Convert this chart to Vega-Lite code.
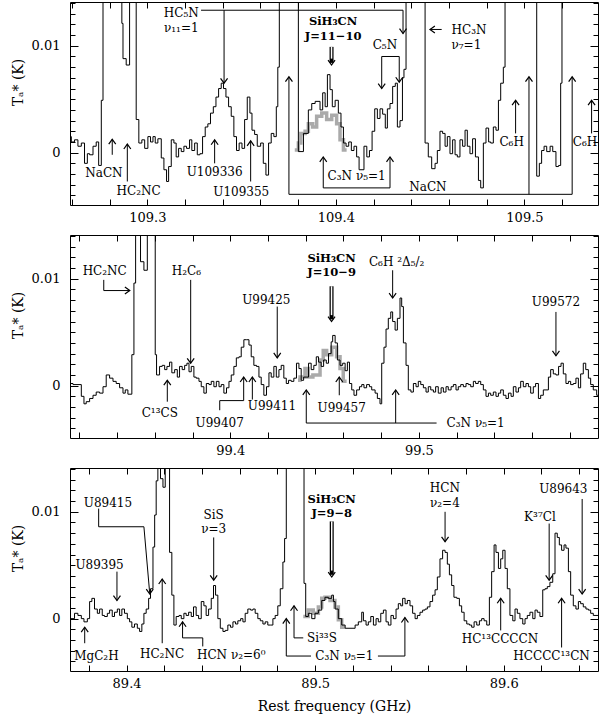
{
"$schema": "https://vega.github.io/schema/vega-lite/v6.json",
"background": "white",
"padding": {"left": 10, "top": -4, "right": 2, "bottom": 2},
"spacing": 30,
"bounds": "flush",
"config": {"view": {"stroke": "#000", "strokeWidth": 1}, "font": "DejaVu Serif"},
"datasets": {
"spec": [
{"panel":1,"x":109.2579,"y":0.0015},{"panel":1,"x":109.2597,"y":0.0010},{"panel":1,"x":109.2614,"y":0.0012},{"panel":1,"x":109.2632,"y":0.0006},{"panel":1,"x":109.2650,"y":0.0009},{"panel":1,"x":109.2667,"y":-0.0010},{"panel":1,"x":109.2682,"y":-0.0001},{"panel":1,"x":109.2694,"y":-0.0002},{"panel":1,"x":109.2712,"y":0.0006},{"panel":1,"x":109.2729,"y":0.0010},{"panel":1,"x":109.2742,"y":-0.0012},{"panel":1,"x":109.2756,"y":0.0049},{"panel":1,"x":109.2765,"y":0.03},{"panel":1,"x":109.2865,"y":0.0121},{"panel":1,"x":109.2871,"y":0.0088},{"panel":1,"x":109.2888,"y":0.0082},{"panel":1,"x":109.2906,"y":0.03},{"panel":1,"x":109.2941,"y":0.0031},{"panel":1,"x":109.2955,"y":0.0009},{"panel":1,"x":109.2971,"y":0.0012},{"panel":1,"x":109.2986,"y":0.0004},{"panel":1,"x":109.3003,"y":0.0015},{"panel":1,"x":109.3017,"y":0.0010},{"panel":1,"x":109.3030,"y":0.0015},{"panel":1,"x":109.3042,"y":0.0009},{"panel":1,"x":109.3056,"y":0.0013},{"panel":1,"x":109.3074,"y":-0.0005},{"panel":1,"x":109.3088,"y":-0.0016},{"panel":1,"x":109.3102,"y":-0.0027},{"panel":1,"x":109.3113,"y":-0.0013},{"panel":1,"x":109.3127,"y":0.0012},{"panel":1,"x":109.3141,"y":0.0009},{"panel":1,"x":109.3153,"y":-0.0004},{"panel":1,"x":109.3166,"y":0.0004},{"panel":1,"x":109.3180,"y":0.0001},{"panel":1,"x":109.3194,"y":0.0006},{"panel":1,"x":109.3208,"y":0.0004},{"panel":1,"x":109.3224,"y":0.0012},{"panel":1,"x":109.3236,"y":0.0002},{"panel":1,"x":109.3251,"y":0.0009},{"panel":1,"x":109.3265,"y":-0.0002},{"panel":1,"x":109.3279,"y":-0.0001},{"panel":1,"x":109.3293,"y":0.0015},{"panel":1,"x":109.3307,"y":0.0024},{"panel":1,"x":109.3321,"y":0.0027},{"panel":1,"x":109.3335,"y":0.0037},{"panel":1,"x":109.3350,"y":0.0043},{"panel":1,"x":109.3364,"y":0.0052},{"panel":1,"x":109.3378,"y":0.0060},{"panel":1,"x":109.3392,"y":0.0065},{"panel":1,"x":109.3404,"y":0.0060},{"panel":1,"x":109.3417,"y":0.0052},{"panel":1,"x":109.3431,"y":0.0043},{"panel":1,"x":109.3445,"y":0.0034},{"panel":1,"x":109.3459,"y":0.0015},{"panel":1,"x":109.3473,"y":0.0002},{"panel":1,"x":109.3487,"y":0.0009},{"panel":1,"x":109.3502,"y":0.0004},{"panel":1,"x":109.3516,"y":0.0031},{"panel":1,"x":109.3530,"y":0.0052},{"panel":1,"x":109.3544,"y":0.0037},{"panel":1,"x":109.3555,"y":0.0021},{"panel":1,"x":109.3569,"y":0.0017},{"panel":1,"x":109.3583,"y":0.0006},{"panel":1,"x":109.3601,"y":0.0009},{"panel":1,"x":109.3615,"y":-0.0010},{"panel":1,"x":109.3629,"y":-0.0021},{"panel":1,"x":109.3643,"y":0.0009},{"panel":1,"x":109.3657,"y":0.0018},{"panel":1,"x":109.3671,"y":0.0015},{"panel":1,"x":109.3684,"y":0.0043},{"panel":1,"x":109.3692,"y":0.0080},{"panel":1,"x":109.3700,"y":0.03},{"panel":1,"x":109.3801,"y":0.0001},{"panel":1,"x":109.3828,"y":0.0018},{"panel":1,"x":109.3854,"y":0.0040},{"panel":1,"x":109.3872,"y":0.0046},{"panel":1,"x":109.3890,"y":0.0048},{"panel":1,"x":109.3916,"y":0.0040},{"panel":1,"x":109.3930,"y":0.0056},{"panel":1,"x":109.3943,"y":0.0043},{"panel":1,"x":109.3955,"y":0.0073},{"panel":1,"x":109.3969,"y":0.0059},{"panel":1,"x":109.3981,"y":0.0043},{"panel":1,"x":109.3996,"y":0.0049},{"panel":1,"x":109.4013,"y":0.0037},{"panel":1,"x":109.4027,"y":0.0024},{"panel":1,"x":109.4040,"y":0.0009},{"panel":1,"x":109.4054,"y":0.0006},{"panel":1,"x":109.4068,"y":0.0010},{"panel":1,"x":109.4082,"y":0.0002},{"panel":1,"x":109.4096,"y":0.0006},{"panel":1,"x":109.4110,"y":-0.0004},{"panel":1,"x":109.4123,"y":-0.0016},{"panel":1,"x":109.4149,"y":0.0006},{"panel":1,"x":109.4164,"y":-0.0004},{"panel":1,"x":109.4178,"y":0.0002},{"panel":1,"x":109.4192,"y":0.0020},{"panel":1,"x":109.4206,"y":0.0041},{"panel":1,"x":109.4220,"y":0.0032},{"panel":1,"x":109.4234,"y":0.0041},{"panel":1,"x":109.4248,"y":0.0036},{"panel":1,"x":109.4262,"y":0.0023},{"panel":1,"x":109.4273,"y":0.0041},{"panel":1,"x":109.4287,"y":0.0046},{"panel":1,"x":109.4301,"y":0.0062},{"panel":1,"x":109.4315,"y":0.0065},{"panel":1,"x":109.4326,"y":0.0024},{"panel":1,"x":109.4340,"y":0.0030},{"panel":1,"x":109.4353,"y":0.0070},{"panel":1,"x":109.4361,"y":0.0078},{"panel":1,"x":109.4372,"y":0.03},{"panel":1,"x":109.4473,"y":0.0009},{"panel":1,"x":109.4490,"y":-0.0004},{"panel":1,"x":109.4508,"y":-0.0015},{"panel":1,"x":109.4526,"y":-0.0010},{"panel":1,"x":109.4538,"y":0.0002},{"panel":1,"x":109.4552,"y":0.0020},{"panel":1,"x":109.4566,"y":0.0018},{"panel":1,"x":109.4579,"y":0.0006},{"panel":1,"x":109.4591,"y":0.0015},{"panel":1,"x":109.4605,"y":-0.0001},{"panel":1,"x":109.4619,"y":0.0012},{"panel":1,"x":109.4632,"y":-0.0002},{"panel":1,"x":109.4644,"y":-0.0004},{"panel":1,"x":109.4658,"y":0.0012},{"panel":1,"x":109.4672,"y":0.0006},{"panel":1,"x":109.4685,"y":0.0021},{"panel":1,"x":109.4697,"y":0.0006},{"panel":1,"x":109.4711,"y":-0.0001},{"panel":1,"x":109.4725,"y":0.0013},{"panel":1,"x":109.4740,"y":-0.0004},{"panel":1,"x":109.4756,"y":-0.0026},{"panel":1,"x":109.4768,"y":-0.0033},{"panel":1,"x":109.4782,"y":0.0009},{"panel":1,"x":109.4796,"y":0.0023},{"panel":1,"x":109.4810,"y":0.0010},{"panel":1,"x":109.4821,"y":0.0009},{"panel":1,"x":109.4835,"y":0.0024},{"panel":1,"x":109.4849,"y":0.0021},{"panel":1,"x":109.4862,"y":0.0049},{"panel":1,"x":109.4874,"y":0.0065},{"panel":1,"x":109.4888,"y":0.0080},{"panel":1,"x":109.4897,"y":0.03},{"panel":1,"x":109.5065,"y":-0.0022},{"panel":1,"x":109.5079,"y":-0.0010},{"panel":1,"x":109.5091,"y":0.0002},{"panel":1,"x":109.5104,"y":0.0006},{"panel":1,"x":109.5118,"y":0.0001},{"panel":1,"x":109.5136,"y":0.0006},{"panel":1,"x":109.5150,"y":0.0001},{"panel":1,"x":109.5167,"y":-0.0013},{"panel":1,"x":109.5181,"y":-0.0012},{"panel":1,"x":109.5192,"y":0.0065},{"panel":1,"x":109.5199,"y":0.03},{"panel":1,"x":109.5400,"y":0.03},
{"panel":2,"x":99.3139,"y":0.0002},{"panel":2,"x":99.3166,"y":0.0001},{"panel":2,"x":99.3210,"y":-0.0010},{"panel":2,"x":99.3224,"y":-0.0017},{"panel":2,"x":99.3236,"y":-0.0015},{"panel":2,"x":99.3254,"y":-0.0012},{"panel":2,"x":99.3272,"y":-0.0009},{"panel":2,"x":99.3289,"y":-0.0006},{"panel":2,"x":99.3307,"y":-0.0007},{"panel":2,"x":99.3325,"y":-0.0001},{"panel":2,"x":99.3342,"y":0.0010},{"panel":2,"x":99.3360,"y":0.0007},{"panel":2,"x":99.3378,"y":0.0004},{"panel":2,"x":99.3395,"y":0.0002},{"panel":2,"x":99.3413,"y":-0.0002},{"panel":2,"x":99.3431,"y":-0.0007},{"panel":2,"x":99.3443,"y":-0.0004},{"panel":2,"x":99.3457,"y":-0.0008},{"panel":2,"x":99.3478,"y":0.0029},{"panel":2,"x":99.3489,"y":0.0096},{"panel":2,"x":99.3498,"y":0.03},{"panel":2,"x":99.3524,"y":0.0116},{"panel":2,"x":99.3542,"y":0.0108},{"panel":2,"x":99.3560,"y":0.03},{"panel":2,"x":99.3602,"y":0.0029},{"panel":2,"x":99.3609,"y":0.0010},{"panel":2,"x":99.3625,"y":0.0018},{"panel":2,"x":99.3639,"y":0.0019},{"panel":2,"x":99.3652,"y":0.0015},{"panel":2,"x":99.3664,"y":0.0018},{"panel":2,"x":99.3678,"y":0.0022},{"panel":2,"x":99.3690,"y":0.0012},{"panel":2,"x":99.3705,"y":0.0015},{"panel":2,"x":99.3719,"y":0.0008},{"panel":2,"x":99.3731,"y":0.0018},{"panel":2,"x":99.3745,"y":0.0015},{"panel":2,"x":99.3758,"y":0.0019},{"panel":2,"x":99.3770,"y":0.0021},{"panel":2,"x":99.3781,"y":0.0013},{"panel":2,"x":99.3793,"y":0.0018},{"panel":2,"x":99.3807,"y":0.0008},{"panel":2,"x":99.3819,"y":0.0007},{"panel":2,"x":99.3834,"y":0.0004},{"panel":2,"x":99.3846,"y":-0.0001},{"panel":2,"x":99.3860,"y":-0.0007},{"panel":2,"x":99.3873,"y":0.0002},{"panel":2,"x":99.3887,"y":0.0001},{"panel":2,"x":99.3899,"y":0.0004},{"panel":2,"x":99.3913,"y":-0.0001},{"panel":2,"x":99.3926,"y":0.0004},{"panel":2,"x":99.3940,"y":-0.0001},{"panel":2,"x":99.3952,"y":0.0001},{"panel":2,"x":99.3966,"y":-0.0007},{"panel":2,"x":99.3980,"y":-0.0002},{"panel":2,"x":99.3993,"y":0.0004},{"panel":2,"x":99.4005,"y":0.0010},{"panel":2,"x":99.4019,"y":0.0018},{"panel":2,"x":99.4032,"y":0.0026},{"panel":2,"x":99.4046,"y":0.0027},{"panel":2,"x":99.4058,"y":0.0036},{"panel":2,"x":99.4072,"y":0.0043},{"panel":2,"x":99.4085,"y":0.0043},{"panel":2,"x":99.4099,"y":0.0038},{"panel":2,"x":99.4111,"y":0.0027},{"panel":2,"x":99.4125,"y":0.0019},{"panel":2,"x":99.4139,"y":0.0018},{"panel":2,"x":99.4152,"y":0.0008},{"panel":2,"x":99.4164,"y":0.0001},{"panel":2,"x":99.4178,"y":-0.0009},{"panel":2,"x":99.4192,"y":-0.0001},{"panel":2,"x":99.4205,"y":0.0012},{"panel":2,"x":99.4217,"y":0.0008},{"panel":2,"x":99.4231,"y":0.0018},{"panel":2,"x":99.4244,"y":0.0008},{"panel":2,"x":99.4258,"y":0.0015},{"panel":2,"x":99.4270,"y":0.0019},{"panel":2,"x":99.4284,"y":0.0007},{"panel":2,"x":99.4297,"y":0.0002},{"panel":2,"x":99.4309,"y":0.0005},{"panel":2,"x":99.4323,"y":0.0004},{"panel":2,"x":99.4337,"y":0.0007},{"panel":2,"x":99.4351,"y":0.0021},{"panel":2,"x":99.4364,"y":0.0016},{"panel":2,"x":99.4376,"y":0.0005},{"panel":2,"x":99.4389,"y":0.0008},{"panel":2,"x":99.4403,"y":0.0008},{"panel":2,"x":99.4415,"y":0.0021},{"panel":2,"x":99.4429,"y":0.0015},{"panel":2,"x":99.4443,"y":0.0019},{"panel":2,"x":99.4456,"y":0.0027},{"panel":2,"x":99.4468,"y":0.0022},{"panel":2,"x":99.4482,"y":0.0018},{"panel":2,"x":99.4495,"y":0.0024},{"panel":2,"x":99.4509,"y":0.0021},{"panel":2,"x":99.4521,"y":0.0030},{"panel":2,"x":99.4535,"y":0.0041},{"panel":2,"x":99.4543,"y":0.0047},{"panel":2,"x":99.4556,"y":0.0040},{"panel":2,"x":99.4568,"y":0.0024},{"panel":2,"x":99.4582,"y":0.0019},{"panel":2,"x":99.4596,"y":0.0021},{"panel":2,"x":99.4609,"y":0.0014},{"panel":2,"x":99.4621,"y":0.0022},{"panel":2,"x":99.4632,"y":0.0002},{"panel":2,"x":99.4644,"y":-0.0004},{"panel":2,"x":99.4656,"y":-0.0009},{"panel":2,"x":99.4670,"y":-0.0004},{"panel":2,"x":99.4685,"y":-0.0001},{"panel":2,"x":99.4697,"y":0.0001},{"panel":2,"x":99.4709,"y":-0.0002},{"panel":2,"x":99.4723,"y":0.0001},{"panel":2,"x":99.4738,"y":-0.0001},{"panel":2,"x":99.4750,"y":-0.0004},{"panel":2,"x":99.4768,"y":-0.0007},{"panel":2,"x":99.4780,"y":-0.0012},{"panel":2,"x":99.4794,"y":-0.0017},{"panel":2,"x":99.4803,"y":0.0021},{"panel":2,"x":99.4815,"y":0.0036},{"panel":2,"x":99.4826,"y":0.0053},{"panel":2,"x":99.4838,"y":0.0063},{"panel":2,"x":99.4851,"y":0.0069},{"panel":2,"x":99.4861,"y":0.0060},{"panel":2,"x":99.4874,"y":0.0052},{"panel":2,"x":99.4886,"y":0.0063},{"panel":2,"x":99.4900,"y":0.0082},{"panel":2,"x":99.4909,"y":0.0074},{"panel":2,"x":99.4918,"y":0.0040},{"panel":2,"x":99.4932,"y":0.0019},{"panel":2,"x":99.4944,"y":-0.0004},{"panel":2,"x":99.4958,"y":-0.0006},{"panel":2,"x":99.4971,"y":0.0002},{"panel":2,"x":99.4985,"y":-0.0001},{"panel":2,"x":99.4997,"y":0.0004},{"panel":2,"x":99.5010,"y":0.0001},{"panel":2,"x":99.5024,"y":-0.0002},{"panel":2,"x":99.5038,"y":-0.0006},{"panel":2,"x":99.5050,"y":-0.0001},{"panel":2,"x":99.5063,"y":-0.0004},{"panel":2,"x":99.5077,"y":-0.0006},{"panel":2,"x":99.5089,"y":-0.0001},{"panel":2,"x":99.5103,"y":-0.0007},{"panel":2,"x":99.5118,"y":-0.0002},{"panel":2,"x":99.5130,"y":-0.0006},{"panel":2,"x":99.5144,"y":-0.0001},{"panel":2,"x":99.5156,"y":-0.0004},{"panel":2,"x":99.5171,"y":-0.0001},{"panel":2,"x":99.5183,"y":0.0001},{"panel":2,"x":99.5197,"y":-0.0004},{"panel":2,"x":99.5209,"y":-0.0001},{"panel":2,"x":99.5222,"y":0.0001},{"panel":2,"x":99.5236,"y":-0.0001},{"panel":2,"x":99.5250,"y":0.0002},{"panel":2,"x":99.5262,"y":0.0001},{"panel":2,"x":99.5275,"y":-0.0001},{"panel":2,"x":99.5289,"y":0.0004},{"panel":2,"x":99.5301,"y":0.0002},{"panel":2,"x":99.5315,"y":0.0004},{"panel":2,"x":99.5328,"y":0.0001},{"panel":2,"x":99.5342,"y":-0.0004},{"panel":2,"x":99.5356,"y":-0.0010},{"panel":2,"x":99.5369,"y":-0.0007},{"panel":2,"x":99.5381,"y":-0.0009},{"panel":2,"x":99.5395,"y":-0.0006},{"panel":2,"x":99.5409,"y":-0.0010},{"panel":2,"x":99.5422,"y":-0.0007},{"panel":2,"x":99.5434,"y":-0.0004},{"panel":2,"x":99.5448,"y":-0.0009},{"panel":2,"x":99.5462,"y":-0.0012},{"panel":2,"x":99.5475,"y":-0.0007},{"panel":2,"x":99.5489,"y":-0.0010},{"panel":2,"x":99.5501,"y":-0.0001},{"panel":2,"x":99.5515,"y":-0.0006},{"panel":2,"x":99.5528,"y":-0.0002},{"panel":2,"x":99.5540,"y":0.0004},{"panel":2,"x":99.5554,"y":-0.0001},{"panel":2,"x":99.5568,"y":0.0002},{"panel":2,"x":99.5581,"y":-0.0001},{"panel":2,"x":99.5593,"y":-0.0007},{"panel":2,"x":99.5607,"y":-0.0001},{"panel":2,"x":99.5619,"y":0.0002},{"panel":2,"x":99.5634,"y":-0.0012},{"panel":2,"x":99.5646,"y":-0.0009},{"panel":2,"x":99.5660,"y":-0.0004},{"panel":2,"x":99.5674,"y":-0.0004},{"panel":2,"x":99.5687,"y":0.0008},{"panel":2,"x":99.5699,"y":0.0015},{"panel":2,"x":99.5713,"y":0.0011},{"panel":2,"x":99.5727,"y":0.0010},{"panel":2,"x":99.5741,"y":0.0018},{"panel":2,"x":99.5754,"y":0.0021},{"panel":2,"x":99.5766,"y":0.0011},{"panel":2,"x":99.5780,"y":0.0002},{"panel":2,"x":99.5793,"y":0.0004},{"panel":2,"x":99.5805,"y":0.0001},{"panel":2,"x":99.5819,"y":0.0002},{"panel":2,"x":99.5833,"y":0.0007},{"panel":2,"x":99.5846,"y":-0.0002},{"panel":2,"x":99.5858,"y":0.0011},{"panel":2,"x":99.5872,"y":0.0021},{"panel":2,"x":99.5885,"y":0.0015},{"panel":2,"x":99.5899,"y":0.0007},{"panel":2,"x":99.5911,"y":0.0001},{"panel":2,"x":99.5925,"y":-0.0004},{"panel":2,"x":99.5943,"y":-0.0009},{"panel":2,"x":99.5960,"y":-0.0009},
{"panel":3,"x":89.3689,"y":-0.0008},{"panel":3,"x":89.3703,"y":0.0000},{"panel":3,"x":89.3724,"y":0.0005},{"panel":3,"x":89.3742,"y":0.0003},{"panel":3,"x":89.3760,"y":0.0000},{"panel":3,"x":89.3774,"y":-0.0003},{"panel":3,"x":89.3792,"y":0.0000},{"panel":3,"x":89.3804,"y":0.0016},{"panel":3,"x":89.3816,"y":0.0019},{"panel":3,"x":89.3830,"y":0.0009},{"panel":3,"x":89.3845,"y":0.0005},{"panel":3,"x":89.3857,"y":0.0009},{"panel":3,"x":89.3871,"y":0.0003},{"panel":3,"x":89.3883,"y":0.0002},{"panel":3,"x":89.3898,"y":0.0005},{"panel":3,"x":89.3910,"y":0.0008},{"panel":3,"x":89.3924,"y":0.0002},{"panel":3,"x":89.3936,"y":0.0006},{"panel":3,"x":89.3951,"y":0.0009},{"panel":3,"x":89.3963,"y":0.0003},{"panel":3,"x":89.3975,"y":0.0009},{"panel":3,"x":89.3989,"y":0.0005},{"panel":3,"x":89.4004,"y":0.0000},{"panel":3,"x":89.4016,"y":-0.0003},{"panel":3,"x":89.4028,"y":-0.0008},{"panel":3,"x":89.4042,"y":-0.0005},{"panel":3,"x":89.4057,"y":-0.0009},{"panel":3,"x":89.4069,"y":-0.0012},{"panel":3,"x":89.4081,"y":-0.0005},{"panel":3,"x":89.4092,"y":0.0005},{"panel":3,"x":89.4104,"y":0.0009},{"panel":3,"x":89.4117,"y":0.0019},{"panel":3,"x":89.4127,"y":0.0028},{"panel":3,"x":89.4140,"y":0.0067},{"panel":3,"x":89.4149,"y":0.0097},{"panel":3,"x":89.4157,"y":0.0129},{"panel":3,"x":89.4166,"y":0.03},{"panel":3,"x":89.4180,"y":0.0131},{"panel":3,"x":89.4193,"y":0.0123},{"panel":3,"x":89.4205,"y":0.03},{"panel":3,"x":89.4228,"y":0.0062},{"panel":3,"x":89.4240,"y":0.0022},{"panel":3,"x":89.4251,"y":-0.0006},{"panel":3,"x":89.4263,"y":0.0002},{"panel":3,"x":89.4278,"y":0.0003},{"panel":3,"x":89.4290,"y":0.0000},{"panel":3,"x":89.4304,"y":0.0005},{"panel":3,"x":89.4316,"y":0.0003},{"panel":3,"x":89.4329,"y":0.0006},{"panel":3,"x":89.4343,"y":0.0002},{"panel":3,"x":89.4355,"y":0.0011},{"panel":3,"x":89.4369,"y":0.0003},{"panel":3,"x":89.4382,"y":0.0000},{"panel":3,"x":89.4396,"y":0.0016},{"panel":3,"x":89.4410,"y":0.0012},{"panel":3,"x":89.4422,"y":0.0003},{"panel":3,"x":89.4435,"y":0.0009},{"panel":3,"x":89.4449,"y":0.0019},{"panel":3,"x":89.4461,"y":0.0031},{"panel":3,"x":89.4472,"y":0.0022},{"panel":3,"x":89.4484,"y":0.0000},{"panel":3,"x":89.4497,"y":-0.0009},{"panel":3,"x":89.4511,"y":-0.0012},{"panel":3,"x":89.4523,"y":-0.0011},{"panel":3,"x":89.4537,"y":-0.0006},{"panel":3,"x":89.4551,"y":-0.0008},{"panel":3,"x":89.4564,"y":-0.0003},{"panel":3,"x":89.4578,"y":-0.0005},{"panel":3,"x":89.4590,"y":-0.0002},{"panel":3,"x":89.4605,"y":0.0000},{"panel":3,"x":89.4617,"y":-0.0003},{"panel":3,"x":89.4629,"y":0.0005},{"panel":3,"x":89.4643,"y":0.0009},{"panel":3,"x":89.4658,"y":0.0008},{"panel":3,"x":89.4670,"y":0.0009},{"panel":3,"x":89.4682,"y":0.0005},{"panel":3,"x":89.4696,"y":0.0000},{"panel":3,"x":89.4709,"y":-0.0002},{"panel":3,"x":89.4723,"y":-0.0005},{"panel":3,"x":89.4735,"y":-0.0003},{"panel":3,"x":89.4749,"y":-0.0006},{"panel":3,"x":89.4762,"y":-0.0006},{"panel":3,"x":89.4776,"y":0.0000},{"panel":3,"x":89.4788,"y":0.0003},{"panel":3,"x":89.4802,"y":0.0012},{"panel":3,"x":89.4815,"y":0.0028},{"panel":3,"x":89.4829,"y":0.0053},{"panel":3,"x":89.4838,"y":0.0075},{"panel":3,"x":89.4847,"y":0.03},{"panel":3,"x":89.4941,"y":0.0033},{"panel":3,"x":89.4950,"y":0.0002},{"panel":3,"x":89.4964,"y":0.0005},{"panel":3,"x":89.4982,"y":0.0000},{"panel":3,"x":89.4999,"y":0.0005},{"panel":3,"x":89.5017,"y":0.0008},{"panel":3,"x":89.5035,"y":0.0017},{"panel":3,"x":89.5052,"y":0.0020},{"panel":3,"x":89.5070,"y":0.0019},{"panel":3,"x":89.5088,"y":0.0022},{"panel":3,"x":89.5097,"y":0.0016},{"panel":3,"x":89.5106,"y":0.0009},{"panel":3,"x":89.5123,"y":0.0000},{"panel":3,"x":89.5141,"y":-0.0006},{"panel":3,"x":89.5159,"y":-0.0009},{"panel":3,"x":89.5212,"y":-0.0006},{"panel":3,"x":89.5229,"y":-0.0003},{"panel":3,"x":89.5247,"y":0.0006},{"panel":3,"x":89.5256,"y":-0.0002},{"panel":3,"x":89.5270,"y":-0.0006},{"panel":3,"x":89.5282,"y":-0.0003},{"panel":3,"x":89.5295,"y":0.0002},{"panel":3,"x":89.5309,"y":-0.0006},{"panel":3,"x":89.5323,"y":0.0000},{"panel":3,"x":89.5335,"y":-0.0003},{"panel":3,"x":89.5348,"y":0.0005},{"panel":3,"x":89.5362,"y":0.0008},{"panel":3,"x":89.5376,"y":-0.0003},{"panel":3,"x":89.5388,"y":-0.0006},{"panel":3,"x":89.5402,"y":0.0003},{"panel":3,"x":89.5415,"y":0.0000},{"panel":3,"x":89.5429,"y":0.0009},{"panel":3,"x":89.5441,"y":0.0014},{"panel":3,"x":89.5454,"y":0.0012},{"panel":3,"x":89.5464,"y":0.0019},{"panel":3,"x":89.5477,"y":0.0014},{"panel":3,"x":89.5489,"y":0.0017},{"panel":3,"x":89.5503,"y":0.0012},{"panel":3,"x":89.5517,"y":0.0005},{"panel":3,"x":89.5530,"y":0.0000},{"panel":3,"x":89.5542,"y":0.0003},{"panel":3,"x":89.5556,"y":0.0006},{"panel":3,"x":89.5570,"y":0.0008},{"panel":3,"x":89.5583,"y":0.0009},{"panel":3,"x":89.5595,"y":0.0011},{"panel":3,"x":89.5609,"y":0.0016},{"panel":3,"x":89.5623,"y":0.0022},{"panel":3,"x":89.5636,"y":0.0027},{"panel":3,"x":89.5648,"y":0.0039},{"panel":3,"x":89.5662,"y":0.0056},{"panel":3,"x":89.5676,"y":0.0064},{"panel":3,"x":89.5689,"y":0.0062},{"panel":3,"x":89.5701,"y":0.0051},{"panel":3,"x":89.5712,"y":0.0041},{"panel":3,"x":89.5724,"y":0.0031},{"panel":3,"x":89.5736,"y":0.0020},{"panel":3,"x":89.5751,"y":0.0019},{"panel":3,"x":89.5765,"y":0.0012},{"panel":3,"x":89.5777,"y":0.0006},{"panel":3,"x":89.5790,"y":-0.0002},{"panel":3,"x":89.5804,"y":-0.0005},{"panel":3,"x":89.5818,"y":-0.0006},{"panel":3,"x":89.5830,"y":-0.0008},{"panel":3,"x":89.5843,"y":-0.0003},{"panel":3,"x":89.5857,"y":-0.0006},{"panel":3,"x":89.5871,"y":-0.0002},{"panel":3,"x":89.5883,"y":0.0000},{"panel":3,"x":89.5896,"y":-0.0002},{"panel":3,"x":89.5910,"y":-0.0006},{"panel":3,"x":89.5924,"y":0.0020},{"panel":3,"x":89.5936,"y":0.0044},{"panel":3,"x":89.5949,"y":0.0069},{"panel":3,"x":89.5959,"y":0.0062},{"panel":3,"x":89.5972,"y":0.0047},{"panel":3,"x":89.5984,"y":0.0056},{"panel":3,"x":89.5995,"y":0.0064},{"panel":3,"x":89.6007,"y":0.0047},{"panel":3,"x":89.6019,"y":0.0028},{"panel":3,"x":89.6033,"y":0.0003},{"panel":3,"x":89.6048,"y":-0.0002},{"panel":3,"x":89.6060,"y":0.0009},{"panel":3,"x":89.6072,"y":0.0005},{"panel":3,"x":89.6086,"y":0.0000},{"panel":3,"x":89.6101,"y":-0.0005},{"panel":3,"x":89.6113,"y":0.0000},{"panel":3,"x":89.6125,"y":0.0003},{"panel":3,"x":89.6139,"y":0.0006},{"panel":3,"x":89.6154,"y":0.0000},{"panel":3,"x":89.6166,"y":0.0008},{"panel":3,"x":89.6178,"y":0.0006},{"panel":3,"x":89.6192,"y":0.0002},{"panel":3,"x":89.6207,"y":0.0027},{"panel":3,"x":89.6219,"y":0.0028},{"panel":3,"x":89.6231,"y":0.0030},{"panel":3,"x":89.6245,"y":0.0034},{"panel":3,"x":89.6260,"y":0.0042},{"panel":3,"x":89.6272,"y":0.0080},{"panel":3,"x":89.6284,"y":0.0076},{"panel":3,"x":89.6295,"y":0.0069},{"panel":3,"x":89.6307,"y":0.0064},{"panel":3,"x":89.6320,"y":0.0069},{"panel":3,"x":89.6330,"y":0.0066},{"panel":3,"x":89.6343,"y":0.0044},{"panel":3,"x":89.6355,"y":0.0022},{"panel":3,"x":89.6369,"y":0.0012},{"panel":3,"x":89.6383,"y":0.0009},{"panel":3,"x":89.6396,"y":0.0016},{"panel":3,"x":89.6408,"y":0.0014},{"panel":3,"x":89.6422,"y":0.0011},{"panel":3,"x":89.6436,"y":0.0009},{"panel":3,"x":89.6449,"y":0.0008},{"panel":3,"x":89.6461,"y":0.0005},{"panel":3,"x":89.6475,"y":0.0003},{"panel":3,"x":89.6520,"y":0.0003}
],
"model": [
{"panel":1,"x":109.3782,"y":0.00025},{"panel":1,"x":109.3801,"y":0.0009},{"panel":1,"x":109.3814,"y":0.0018},{"panel":1,"x":109.3837,"y":0.0020},{"panel":1,"x":109.3854,"y":0.0027},{"panel":1,"x":109.3877,"y":0.0024},{"panel":1,"x":109.3898,"y":0.0034},{"panel":1,"x":109.3925,"y":0.0037},{"panel":1,"x":109.3951,"y":0.0031},{"panel":1,"x":109.3978,"y":0.0035},{"panel":1,"x":109.4004,"y":0.0027},{"panel":1,"x":109.4022,"y":0.0012},{"panel":1,"x":109.4040,"y":0.00025},{"panel":1,"x":109.4057,"y":0.00025},
{"panel":2,"x":99.4359,"y":0.0005},{"panel":2,"x":99.4370,"y":0.0008},{"panel":2,"x":99.4396,"y":0.0016},{"panel":2,"x":99.4413,"y":0.0008},{"panel":2,"x":99.4438,"y":0.0010},{"panel":2,"x":99.4476,"y":0.0024},{"panel":2,"x":99.4493,"y":0.0033},{"panel":2,"x":99.4511,"y":0.0029},{"panel":2,"x":99.4538,"y":0.0036},{"panel":2,"x":99.4564,"y":0.0027},{"panel":2,"x":99.4582,"y":0.0016},{"panel":2,"x":99.4599,"y":0.0004},{"panel":2,"x":99.4617,"y":0.0004},
{"panel":3,"x":89.4937,"y":0.0002},{"panel":3,"x":89.4964,"y":0.0008},{"panel":3,"x":89.4990,"y":0.0005},{"panel":3,"x":89.5017,"y":0.0011},{"panel":3,"x":89.5035,"y":0.0019},{"panel":3,"x":89.5052,"y":0.0020},{"panel":3,"x":89.5079,"y":0.0017},{"panel":3,"x":89.5105,"y":0.0011},{"panel":3,"x":89.5123,"y":-0.0001},{"panel":3,"x":89.5141,"y":-0.0008},{"panel":3,"x":89.5158,"y":-0.0008}
],
"segs": [
{"panel":1,"x":109.2814,"x2":109.2814,"y":-0.0002,"y2":0.00125},{"panel":1,"x":109.2894,"x2":109.2894,"y":-0.0027,"y2":0.0008},{"panel":1,"x":109.3357,"x2":109.3357,"y":-0.0010,"y2":0.0012},{"panel":1,"x":109.3548,"x2":109.3548,"y":-0.0027,"y2":0.0011},{"panel":1,"x":109.3285,"x2":109.4356,"y":0.01333,"y2":0.01333},{"panel":1,"x":109.3407,"x2":109.3407,"y":0.01333,"y2":0.0065},{"panel":1,"x":109.4356,"x2":109.4356,"y":0.01333,"y2":0.01115},{"panel":1,"x":109.3751,"x2":109.3751,"y":-0.0039,"y2":0.0071},{"panel":1,"x":109.5024,"x2":109.5024,"y":-0.0039,"y2":0.0071},{"panel":1,"x":109.5253,"x2":109.5253,"y":-0.0039,"y2":0.0071},{"panel":1,"x":109.3751,"x2":109.5253,"y":-0.0039,"y2":-0.0039},{"panel":1,"x":109.3933,"x2":109.3933,"y":-0.0033,"y2":-0.0004},{"panel":1,"x":109.4287,"x2":109.4287,"y":-0.0033,"y2":-0.0004},{"panel":1,"x":109.3933,"x2":109.4287,"y":-0.0033,"y2":-0.0033},{"panel":1,"x":109.4243,"x2":109.4336,"y":0.0090,"y2":0.0090},{"panel":1,"x":109.4243,"x2":109.4243,"y":0.0090,"y2":0.0060},{"panel":1,"x":109.4336,"x2":109.4336,"y":0.0090,"y2":0.0066},{"panel":1,"x":109.4499,"x2":109.4561,"y":0.01153,"y2":0.01153},{"panel":1,"x":109.4953,"x2":109.4953,"y":0.0018,"y2":0.0049},{"panel":1,"x":109.5356,"x2":109.5356,"y":0.0018,"y2":0.0049},
{"panel":2,"x":99.3329,"x2":99.3329,"y":0.0099,"y2":0.0089},{"panel":2,"x":99.3329,"x2":99.3467,"y":0.0089,"y2":0.0089},{"panel":2,"x":99.3790,"x2":99.3790,"y":0.0099,"y2":0.0021},{"panel":2,"x":99.3666,"x2":99.3666,"y":-0.0015,"y2":0.0005},{"panel":2,"x":99.4249,"x2":99.4249,"y":0.0074,"y2":0.0026},{"panel":2,"x":99.3944,"x2":99.3944,"y":-0.0023,"y2":-0.0014},{"panel":2,"x":99.3944,"x2":99.4071,"y":-0.0014,"y2":-0.0014},{"panel":2,"x":99.4071,"x2":99.4071,"y":-0.0014,"y2":0.0008},{"panel":2,"x":99.4117,"x2":99.4117,"y":-0.0013,"y2":0.0008},{"panel":2,"x":99.4403,"x2":99.4403,"y":-0.0035,"y2":-0.0004},{"panel":2,"x":99.4877,"x2":99.4877,"y":-0.0035,"y2":-0.0004},{"panel":2,"x":99.4403,"x2":99.5094,"y":-0.0035,"y2":-0.0035},{"panel":2,"x":99.4578,"x2":99.4578,"y":-0.0009,"y2":0.0008},{"panel":2,"x":99.4861,"x2":99.4861,"y":0.0108,"y2":0.0082},{"panel":2,"x":99.5727,"x2":99.5727,"y":0.0069,"y2":0.0028},
{"panel":3,"x":89.3778,"x2":89.3778,"y":-0.0023,"y2":-0.0008},{"panel":3,"x":89.3949,"x2":89.3949,"y":0.0044,"y2":0.0017},{"panel":3,"x":89.3852,"x2":89.3852,"y":0.0103,"y2":0.0086},{"panel":3,"x":89.3852,"x2":89.4092,"y":0.0086,"y2":0.0086},{"panel":3,"x":89.4092,"x2":89.4123,"y":0.0086,"y2":0.0023},{"panel":3,"x":89.4189,"x2":89.4189,"y":-0.0023,"y2":0.0037},{"panel":3,"x":89.4462,"x2":89.4462,"y":0.0076,"y2":0.0036},{"panel":3,"x":89.4297,"x2":89.4297,"y":-0.0018,"y2":-0.0003},{"panel":3,"x":89.4297,"x2":89.4404,"y":-0.0018,"y2":-0.0018},{"panel":3,"x":89.4404,"x2":89.4404,"y":-0.0018,"y2":-0.0026},{"panel":3,"x":89.4888,"x2":89.4888,"y":-0.0018,"y2":0.0012},{"panel":3,"x":89.4888,"x2":89.4937,"y":-0.0018,"y2":-0.0018},{"panel":3,"x":89.4847,"x2":89.4847,"y":-0.0035,"y2":0.0000},{"panel":3,"x":89.4847,"x2":89.4978,"y":-0.0035,"y2":-0.0035},{"panel":3,"x":89.5333,"x2":89.5476,"y":-0.0035,"y2":-0.0035},{"panel":3,"x":89.5476,"x2":89.5476,"y":-0.0035,"y2":0.0001},{"panel":3,"x":89.5689,"x2":89.5689,"y":0.0100,"y2":0.0072},{"panel":3,"x":89.5984,"x2":89.5984,"y":-0.0011,"y2":0.0019},{"panel":3,"x":89.6241,"x2":89.6241,"y":0.0089,"y2":0.0036},{"panel":3,"x":89.6416,"x2":89.6416,"y":0.0112,"y2":0.0023},{"panel":3,"x":89.6307,"x2":89.6307,"y":-0.0027,"y2":0.0019}
],
"dbl": [
{"panel":1,"x":109.3977,"y":0.0099,"y2":0.0084,"yw":0.0088},
{"panel":2,"x":99.4537,"y":0.0093,"y2":0.0062,"yw":0.0066},
{"panel":3,"x":89.5088,"y":0.0091,"y2":0.0041,"yw":0.0045}
],
"heads": [
{"panel":1,"x":109.2814,"y":0.00125,"dir":"up"},{"panel":1,"x":109.2894,"y":0.0008,"dir":"up"},{"panel":1,"x":109.3357,"y":0.0012,"dir":"up"},{"panel":1,"x":109.3548,"y":0.0011,"dir":"up"},{"panel":1,"x":109.3751,"y":0.0071,"dir":"up"},{"panel":1,"x":109.5024,"y":0.0071,"dir":"up"},{"panel":1,"x":109.5253,"y":0.0071,"dir":"up"},{"panel":1,"x":109.3933,"y":-0.0004,"dir":"up"},{"panel":1,"x":109.4287,"y":-0.0004,"dir":"up"},{"panel":1,"x":109.4953,"y":0.0049,"dir":"up"},{"panel":1,"x":109.5356,"y":0.0049,"dir":"up"},{"panel":1,"x":109.3407,"y":0.0065,"dir":"down"},{"panel":1,"x":109.4356,"y":0.01115,"dir":"down"},{"panel":1,"x":109.4243,"y":0.0060,"dir":"down"},{"panel":1,"x":109.4336,"y":0.0066,"dir":"down"},{"panel":1,"x":109.3977,"y":0.0082,"dir":"down"},{"panel":1,"x":109.4499,"y":0.01153,"dir":"left"},
{"panel":2,"x":99.3467,"y":0.0089,"dir":"right"},{"panel":2,"x":99.3790,"y":0.0021,"dir":"down"},{"panel":2,"x":99.4249,"y":0.0026,"dir":"down"},{"panel":2,"x":99.4537,"y":0.0060,"dir":"down"},{"panel":2,"x":99.4861,"y":0.0082,"dir":"down"},{"panel":2,"x":99.5727,"y":0.0028,"dir":"down"},{"panel":2,"x":99.3666,"y":0.0005,"dir":"up"},{"panel":2,"x":99.4071,"y":0.0008,"dir":"up"},{"panel":2,"x":99.4117,"y":0.0008,"dir":"up"},{"panel":2,"x":99.4403,"y":-0.0004,"dir":"up"},{"panel":2,"x":99.4877,"y":-0.0004,"dir":"up"},{"panel":2,"x":99.4578,"y":0.0008,"dir":"up"},
{"panel":3,"x":89.3778,"y":-0.0008,"dir":"up"},{"panel":3,"x":89.4189,"y":0.0037,"dir":"up"},{"panel":3,"x":89.4297,"y":-0.0003,"dir":"up"},{"panel":3,"x":89.4888,"y":0.0012,"dir":"up"},{"panel":3,"x":89.4847,"y":0.0000,"dir":"up"},{"panel":3,"x":89.5476,"y":0.0001,"dir":"up"},{"panel":3,"x":89.5984,"y":0.0019,"dir":"up"},{"panel":3,"x":89.6307,"y":0.0019,"dir":"up"},{"panel":3,"x":89.3949,"y":0.0017,"dir":"down"},{"panel":3,"x":89.4123,"y":0.0023,"dir":"down"},{"panel":3,"x":89.4462,"y":0.0036,"dir":"down"},{"panel":3,"x":89.5088,"y":0.0039,"dir":"down"},{"panel":3,"x":89.5689,"y":0.0072,"dir":"down"},{"panel":3,"x":89.6241,"y":0.0036,"dir":"down"},{"panel":3,"x":89.6416,"y":0.0023,"dir":"down"}
],
"labels": [
{"panel":1,"x":109.2770,"y":-0.0019,"text":"NaCN"},{"panel":1,"x":109.2954,"y":-0.0036,"text":"HC₂NC"},{"panel":1,"x":109.3357,"y":-0.0018,"text":"U109336"},{"panel":1,"x":109.3498,"y":-0.0037,"text":"U109355"},{"panel":1,"x":109.3180,"y":0.01310,"text":"HC₅N"},{"panel":1,"x":109.3180,"y":0.01170,"text":"ν₁₁=1"},{"panel":1,"x":109.4488,"y":-0.0032,"text":"NaCN"},{"panel":1,"x":109.4110,"y":-0.0022,"text":"C₃N  ν₅=1"},{"panel":1,"x":109.4260,"y":0.0101,"text":"C₅N"},{"panel":1,"x":109.4706,"y":0.0115,"text":"HC₃N"},{"panel":1,"x":109.4692,"y":0.0101,"text":"ν₇=1"},{"panel":1,"x":109.4932,"y":0.0010,"text":"C₆H"},{"panel":1,"x":109.5321,"y":0.0010,"text":"C₆H"},
{"panel":2,"x":99.3334,"y":0.0107,"text":"HC₂NC"},{"panel":2,"x":99.3767,"y":0.0107,"text":"H₂C₆"},{"panel":2,"x":99.3626,"y":-0.0026,"text":"C¹³CS"},{"panel":2,"x":99.4191,"y":0.0080,"text":"U99425"},{"panel":2,"x":99.3944,"y":-0.0035,"text":"U99407"},{"panel":2,"x":99.4221,"y":-0.0019,"text":"U99411"},{"panel":2,"x":99.5301,"y":-0.0035,"text":"C₃N  ν₅=1"},{"panel":2,"x":99.4591,"y":-0.0021,"text":"U99457"},{"panel":2,"x":99.4882,"y":0.0116,"text":"C₆H  ²Δ₅/₂"},{"panel":2,"x":99.5727,"y":0.0078,"text":"U99572"},
{"panel":3,"x":89.3840,"y":-0.0035,"text":"MgC₂H"},{"panel":3,"x":89.3857,"y":0.0050,"text":"U89395"},{"panel":3,"x":89.3901,"y":0.0108,"text":"U89415"},{"panel":3,"x":89.4188,"y":-0.0033,"text":"HC₂NC"},{"panel":3,"x":89.4462,"y":0.0097,"text":"SiS"},{"panel":3,"x":89.4462,"y":0.0084,"text":"ν=3"},{"panel":3,"x":89.4555,"y":-0.0034,"text":"HCN  ν₂=6⁰"},{"panel":3,"x":89.5036,"y":-0.0018,"text":"Si³³S"},{"panel":3,"x":89.5155,"y":-0.0035,"text":"C₃N  ν₅=1"},{"panel":3,"x":89.5688,"y":0.0122,"text":"HCN"},{"panel":3,"x":89.5688,"y":0.0108,"text":"ν₂=4"},{"panel":3,"x":89.5980,"y":-0.0019,"text":"HC¹³CCCCN"},{"panel":3,"x":89.6192,"y":0.0095,"text":"K³⁷Cl"},{"panel":3,"x":89.6316,"y":0.0121,"text":"U89643"},{"panel":3,"x":89.6254,"y":-0.0035,"text":"HCCCC¹³CN"}
],
"bold": [
{"panel":1,"x":109.3985,"y":0.01220,"text":"SiH₃CN"},{"panel":1,"x":109.3985,"y":0.01085,"text":"J=11−10"},
{"panel":2,"x":99.4537,"y":0.0119,"text":"SiH₃CN"},{"panel":2,"x":99.4537,"y":0.01055,"text":"J=10−9"},
{"panel":3,"x":89.5088,"y":0.0111,"text":"SiH₃CN"},{"panel":3,"x":89.5088,"y":0.00975,"text":"J=9−8"}
]
},
"vconcat": [
{"width": 528, "height": 203, "layer": [
 {"data": {"name": "model"}, "transform": [{"filter": "datum.panel == 1"}], "mark": {"type": "line", "interpolate": "step-after", "stroke": "#aaaaaa", "strokeWidth": 3.5, "clip": true},
  "encoding": {"x": {"field": "x", "type": "quantitative", "scale": {"domain": [109.259, 109.539], "nice": false, "zero": false}, "axis": {"orient": "top", "values": [109.26,109.28,109.3,109.32,109.34,109.36,109.38,109.4,109.42,109.44,109.46,109.48,109.5,109.52], "labels": false, "title": null, "tickSize": -6, "domain": false, "grid": false, "tickColor": "#000"}},
   "y": {"field": "y", "type": "quantitative", "scale": {"domain": [-0.0049, 0.0141], "nice": false, "zero": false}, "axis": {"orient": "right", "values": [-0.004,-0.003,-0.002,-0.001,0,0.001,0.002,0.003,0.004,0.005,0.006,0.007,0.008,0.009,0.01,0.011,0.012,0.013,0.014], "labels": false, "title": null, "tickSize": {"condition": {"test": "datum.value == 0 || abs(datum.value - 0.01) < 1e-6", "value": -8}, "value": -5}, "domain": false, "grid": false, "tickColor": "#000"}}}},
 {"data": {"name": "spec"}, "transform": [{"filter": "datum.panel == 1"}], "mark": {"type": "line", "interpolate": "step-after", "stroke": "#000", "strokeWidth": 1, "clip": true},
  "encoding": {"x": {"field": "x", "type": "quantitative", "scale": {"domain": [109.259, 109.539], "nice": false, "zero": false}, "axis": {"orient": "bottom", "values": [109.26,109.28,109.3,109.32,109.34,109.36,109.38,109.4,109.42,109.44,109.46,109.48,109.5,109.52], "labelExpr": "abs(datum.value*10 - round(datum.value*10)) < 1e-6 ? format(datum.value, '.1f') : ''", "title": null, "tickSize": -6, "labelPadding": 12, "domain": false, "grid": false, "tickColor": "#000", "labelColor": "#000", "labelFont": "DejaVu Serif", "labelFontSize": 13, "labelOverlap": false, "labelFlush": false}},
   "y": {"field": "y", "type": "quantitative", "scale": {"domain": [-0.0049, 0.0141], "nice": false, "zero": false}, "axis": {"orient": "left", "values": [-0.004,-0.003,-0.002,-0.001,0,0.001,0.002,0.003,0.004,0.005,0.006,0.007,0.008,0.009,0.01,0.011,0.012,0.013,0.014], "labelExpr": "format(datum.value, '.3f') == '0.000' ? '0' : (format(datum.value, '.3f') == '0.010' ? '0.01' : '')", "title": "Tₐ* (K)", "titleX": -52, "titleY": 80, "titleAngle": -90, "titleBaseline": "middle", "titleFont": "DejaVu Serif", "titleFontSize": 14, "titleFontWeight": "normal", "titleColor": "#000", "tickSize": {"condition": {"test": "datum.value == 0 || abs(datum.value - 0.01) < 1e-6", "value": -8}, "value": -5}, "labelPadding": 18, "domain": false, "grid": false, "tickColor": "#000", "labelColor": "#000", "labelFont": "DejaVu Serif", "labelFontSize": 13, "labelOverlap": false, "labelFlush": false}}}},
 {"data": {"name": "segs"}, "transform": [{"filter": "datum.panel == 1"}], "mark": {"type": "rule", "stroke": "#000", "strokeWidth": 1},
  "encoding": {"x": {"field": "x", "type": "quantitative", "axis": null}, "x2": {"field": "x2"}, "y": {"field": "y", "type": "quantitative", "axis": null}, "y2": {"field": "y2"}}},
 {"data": {"name": "dbl"}, "transform": [{"filter": "datum.panel == 1"}], "mark": {"type": "rule", "stroke": "#000", "strokeWidth": 4},
  "encoding": {"x": {"field": "x", "type": "quantitative", "axis": null}, "y": {"field": "y", "type": "quantitative", "axis": null}, "y2": {"field": "y2"}}},
 {"data": {"name": "dbl"}, "transform": [{"filter": "datum.panel == 1"}], "mark": {"type": "rule", "stroke": "#fff", "strokeWidth": 1.5},
  "encoding": {"x": {"field": "x", "type": "quantitative", "axis": null}, "y": {"field": "y", "type": "quantitative", "axis": null}, "y2": {"field": "yw"}}},
 {"data": {"name": "heads"}, "transform": [{"filter": "datum.panel == 1"}], "mark": {"type": "point", "filled": false, "stroke": "#000", "strokeWidth": 1.2, "size": 49, "opacity": 1},
  "encoding": {"x": {"field": "x", "type": "quantitative", "axis": null}, "y": {"field": "y", "type": "quantitative", "axis": null}, "shape": {"field": "dir", "type": "nominal", "legend": null, "scale": {"domain": ["up","down","left","right"], "range": ["M-1,1.4L0,0L1,1.4", "M-1,-1.4L0,0L1,-1.4", "M1.4,-1L0,0L1.4,1", "M-1.4,-1L0,0L-1.4,1"]}}}},
 {"data": {"name": "labels"}, "transform": [{"filter": "datum.panel == 1"}], "mark": {"type": "text", "font": "DejaVu Serif", "fontSize": 12, "fill": "#000", "align": "center", "baseline": "middle"},
  "encoding": {"x": {"field": "x", "type": "quantitative", "axis": null}, "y": {"field": "y", "type": "quantitative", "axis": null}, "text": {"field": "text"}}},
 {"data": {"name": "bold"}, "transform": [{"filter": "datum.panel == 1"}], "mark": {"type": "text", "font": "DejaVu Serif", "fontSize": 11.5, "fontWeight": "bold", "fill": "#000", "align": "center", "baseline": "middle"},
  "encoding": {"x": {"field": "x", "type": "quantitative", "axis": null}, "y": {"field": "y", "type": "quantitative", "axis": null}, "text": {"field": "text"}}}
]},
{"width": 528, "height": 203, "layer": [
 {"data": {"name": "model"}, "transform": [{"filter": "datum.panel == 2"}], "mark": {"type": "line", "interpolate": "step-after", "stroke": "#aaaaaa", "strokeWidth": 3.5, "clip": true},
  "encoding": {"x": {"field": "x", "type": "quantitative", "scale": {"domain": [99.315, 99.595], "nice": false, "zero": false}, "axis": {"orient": "top", "values": [99.32,99.34,99.36,99.38,99.4,99.42,99.44,99.46,99.48,99.5,99.52,99.54,99.56,99.58], "labels": false, "title": null, "tickSize": -6, "domain": false, "grid": false, "tickColor": "#000"}},
   "y": {"field": "y", "type": "quantitative", "scale": {"domain": [-0.0049, 0.0141], "nice": false, "zero": false}, "axis": {"orient": "right", "values": [-0.004,-0.003,-0.002,-0.001,0,0.001,0.002,0.003,0.004,0.005,0.006,0.007,0.008,0.009,0.01,0.011,0.012,0.013,0.014], "labels": false, "title": null, "tickSize": {"condition": {"test": "datum.value == 0 || abs(datum.value - 0.01) < 1e-6", "value": -8}, "value": -5}, "domain": false, "grid": false, "tickColor": "#000"}}}},
 {"data": {"name": "spec"}, "transform": [{"filter": "datum.panel == 2"}], "mark": {"type": "line", "interpolate": "step-after", "stroke": "#000", "strokeWidth": 1, "clip": true},
  "encoding": {"x": {"field": "x", "type": "quantitative", "scale": {"domain": [99.315, 99.595], "nice": false, "zero": false}, "axis": {"orient": "bottom", "values": [99.32,99.34,99.36,99.38,99.4,99.42,99.44,99.46,99.48,99.5,99.52,99.54,99.56,99.58], "labelExpr": "abs(datum.value*10 - round(datum.value*10)) < 1e-6 ? format(datum.value, '.1f') : ''", "title": null, "tickSize": -6, "labelPadding": 12, "domain": false, "grid": false, "tickColor": "#000", "labelColor": "#000", "labelFont": "DejaVu Serif", "labelFontSize": 13, "labelOverlap": false, "labelFlush": false}},
   "y": {"field": "y", "type": "quantitative", "scale": {"domain": [-0.0049, 0.0141], "nice": false, "zero": false}, "axis": {"orient": "left", "values": [-0.004,-0.003,-0.002,-0.001,0,0.001,0.002,0.003,0.004,0.005,0.006,0.007,0.008,0.009,0.01,0.011,0.012,0.013,0.014], "labelExpr": "format(datum.value, '.3f') == '0.000' ? '0' : (format(datum.value, '.3f') == '0.010' ? '0.01' : '')", "title": "Tₐ* (K)", "titleX": -52, "titleY": 80, "titleAngle": -90, "titleBaseline": "middle", "titleFont": "DejaVu Serif", "titleFontSize": 14, "titleFontWeight": "normal", "titleColor": "#000", "tickSize": {"condition": {"test": "datum.value == 0 || abs(datum.value - 0.01) < 1e-6", "value": -8}, "value": -5}, "labelPadding": 18, "domain": false, "grid": false, "tickColor": "#000", "labelColor": "#000", "labelFont": "DejaVu Serif", "labelFontSize": 13, "labelOverlap": false, "labelFlush": false}}}},
 {"data": {"name": "segs"}, "transform": [{"filter": "datum.panel == 2"}], "mark": {"type": "rule", "stroke": "#000", "strokeWidth": 1},
  "encoding": {"x": {"field": "x", "type": "quantitative", "axis": null}, "x2": {"field": "x2"}, "y": {"field": "y", "type": "quantitative", "axis": null}, "y2": {"field": "y2"}}},
 {"data": {"name": "dbl"}, "transform": [{"filter": "datum.panel == 2"}], "mark": {"type": "rule", "stroke": "#000", "strokeWidth": 4},
  "encoding": {"x": {"field": "x", "type": "quantitative", "axis": null}, "y": {"field": "y", "type": "quantitative", "axis": null}, "y2": {"field": "y2"}}},
 {"data": {"name": "dbl"}, "transform": [{"filter": "datum.panel == 2"}], "mark": {"type": "rule", "stroke": "#fff", "strokeWidth": 1.5},
  "encoding": {"x": {"field": "x", "type": "quantitative", "axis": null}, "y": {"field": "y", "type": "quantitative", "axis": null}, "y2": {"field": "yw"}}},
 {"data": {"name": "heads"}, "transform": [{"filter": "datum.panel == 2"}], "mark": {"type": "point", "filled": false, "stroke": "#000", "strokeWidth": 1.2, "size": 49, "opacity": 1},
  "encoding": {"x": {"field": "x", "type": "quantitative", "axis": null}, "y": {"field": "y", "type": "quantitative", "axis": null}, "shape": {"field": "dir", "type": "nominal", "legend": null, "scale": {"domain": ["up","down","left","right"], "range": ["M-1,1.4L0,0L1,1.4", "M-1,-1.4L0,0L1,-1.4", "M1.4,-1L0,0L1.4,1", "M-1.4,-1L0,0L-1.4,1"]}}}},
 {"data": {"name": "labels"}, "transform": [{"filter": "datum.panel == 2"}], "mark": {"type": "text", "font": "DejaVu Serif", "fontSize": 12, "fill": "#000", "align": "center", "baseline": "middle"},
  "encoding": {"x": {"field": "x", "type": "quantitative", "axis": null}, "y": {"field": "y", "type": "quantitative", "axis": null}, "text": {"field": "text"}}},
 {"data": {"name": "bold"}, "transform": [{"filter": "datum.panel == 2"}], "mark": {"type": "text", "font": "DejaVu Serif", "fontSize": 11.5, "fontWeight": "bold", "fill": "#000", "align": "center", "baseline": "middle"},
  "encoding": {"x": {"field": "x", "type": "quantitative", "axis": null}, "y": {"field": "y", "type": "quantitative", "axis": null}, "text": {"field": "text"}}}
]},
{"width": 528, "height": 203, "layer": [
 {"data": {"name": "model"}, "transform": [{"filter": "datum.panel == 3"}], "mark": {"type": "line", "interpolate": "step-after", "stroke": "#aaaaaa", "strokeWidth": 3.5, "clip": true},
  "encoding": {"x": {"field": "x", "type": "quantitative", "scale": {"domain": [89.370, 89.650], "nice": false, "zero": false}, "axis": {"orient": "top", "values": [89.38,89.4,89.42,89.44,89.46,89.48,89.5,89.52,89.54,89.56,89.58,89.6,89.62,89.64], "labels": false, "title": null, "tickSize": -6, "domain": false, "grid": false, "tickColor": "#000"}},
   "y": {"field": "y", "type": "quantitative", "scale": {"domain": [-0.0049, 0.0141], "nice": false, "zero": false}, "axis": {"orient": "right", "values": [-0.004,-0.003,-0.002,-0.001,0,0.001,0.002,0.003,0.004,0.005,0.006,0.007,0.008,0.009,0.01,0.011,0.012,0.013,0.014], "labels": false, "title": null, "tickSize": {"condition": {"test": "datum.value == 0 || abs(datum.value - 0.01) < 1e-6", "value": -8}, "value": -5}, "domain": false, "grid": false, "tickColor": "#000"}}}},
 {"data": {"name": "spec"}, "transform": [{"filter": "datum.panel == 3"}], "mark": {"type": "line", "interpolate": "step-after", "stroke": "#000", "strokeWidth": 1, "clip": true},
  "encoding": {"x": {"field": "x", "type": "quantitative", "scale": {"domain": [89.370, 89.650], "nice": false, "zero": false}, "axis": {"orient": "bottom", "values": [89.38,89.4,89.42,89.44,89.46,89.48,89.5,89.52,89.54,89.56,89.58,89.6,89.62,89.64], "labelExpr": "abs(datum.value*10 - round(datum.value*10)) < 1e-6 ? format(datum.value, '.1f') : ''", "title": "Rest frequency (GHz)", "titleFont": "DejaVu Serif", "titleFontSize": 14, "titleFontWeight": "normal", "titleColor": "#000", "titleY": 35, "titleBaseline": "middle", "tickSize": -6, "labelPadding": 12, "domain": false, "grid": false, "tickColor": "#000", "labelColor": "#000", "labelFont": "DejaVu Serif", "labelFontSize": 13, "labelOverlap": false, "labelFlush": false}},
   "y": {"field": "y", "type": "quantitative", "scale": {"domain": [-0.0049, 0.0141], "nice": false, "zero": false}, "axis": {"orient": "left", "values": [-0.004,-0.003,-0.002,-0.001,0,0.001,0.002,0.003,0.004,0.005,0.006,0.007,0.008,0.009,0.01,0.011,0.012,0.013,0.014], "labelExpr": "format(datum.value, '.3f') == '0.000' ? '0' : (format(datum.value, '.3f') == '0.010' ? '0.01' : '')", "title": "Tₐ* (K)", "titleX": -52, "titleY": 80, "titleAngle": -90, "titleBaseline": "middle", "titleFont": "DejaVu Serif", "titleFontSize": 14, "titleFontWeight": "normal", "titleColor": "#000", "tickSize": {"condition": {"test": "datum.value == 0 || abs(datum.value - 0.01) < 1e-6", "value": -8}, "value": -5}, "labelPadding": 18, "domain": false, "grid": false, "tickColor": "#000", "labelColor": "#000", "labelFont": "DejaVu Serif", "labelFontSize": 13, "labelOverlap": false, "labelFlush": false}}}},
 {"data": {"name": "segs"}, "transform": [{"filter": "datum.panel == 3"}], "mark": {"type": "rule", "stroke": "#000", "strokeWidth": 1},
  "encoding": {"x": {"field": "x", "type": "quantitative", "axis": null}, "x2": {"field": "x2"}, "y": {"field": "y", "type": "quantitative", "axis": null}, "y2": {"field": "y2"}}},
 {"data": {"name": "dbl"}, "transform": [{"filter": "datum.panel == 3"}], "mark": {"type": "rule", "stroke": "#000", "strokeWidth": 4},
  "encoding": {"x": {"field": "x", "type": "quantitative", "axis": null}, "y": {"field": "y", "type": "quantitative", "axis": null}, "y2": {"field": "y2"}}},
 {"data": {"name": "dbl"}, "transform": [{"filter": "datum.panel == 3"}], "mark": {"type": "rule", "stroke": "#fff", "strokeWidth": 1.5},
  "encoding": {"x": {"field": "x", "type": "quantitative", "axis": null}, "y": {"field": "y", "type": "quantitative", "axis": null}, "y2": {"field": "yw"}}},
 {"data": {"name": "heads"}, "transform": [{"filter": "datum.panel == 3"}], "mark": {"type": "point", "filled": false, "stroke": "#000", "strokeWidth": 1.2, "size": 49, "opacity": 1},
  "encoding": {"x": {"field": "x", "type": "quantitative", "axis": null}, "y": {"field": "y", "type": "quantitative", "axis": null}, "shape": {"field": "dir", "type": "nominal", "legend": null, "scale": {"domain": ["up","down","left","right"], "range": ["M-1,1.4L0,0L1,1.4", "M-1,-1.4L0,0L1,-1.4", "M1.4,-1L0,0L1.4,1", "M-1.4,-1L0,0L-1.4,1"]}}}},
 {"data": {"name": "labels"}, "transform": [{"filter": "datum.panel == 3"}], "mark": {"type": "text", "font": "DejaVu Serif", "fontSize": 12, "fill": "#000", "align": "center", "baseline": "middle"},
  "encoding": {"x": {"field": "x", "type": "quantitative", "axis": null}, "y": {"field": "y", "type": "quantitative", "axis": null}, "text": {"field": "text"}}},
 {"data": {"name": "bold"}, "transform": [{"filter": "datum.panel == 3"}], "mark": {"type": "text", "font": "DejaVu Serif", "fontSize": 11.5, "fontWeight": "bold", "fill": "#000", "align": "center", "baseline": "middle"},
  "encoding": {"x": {"field": "x", "type": "quantitative", "axis": null}, "y": {"field": "y", "type": "quantitative", "axis": null}, "text": {"field": "text"}}}
]}
]
}
